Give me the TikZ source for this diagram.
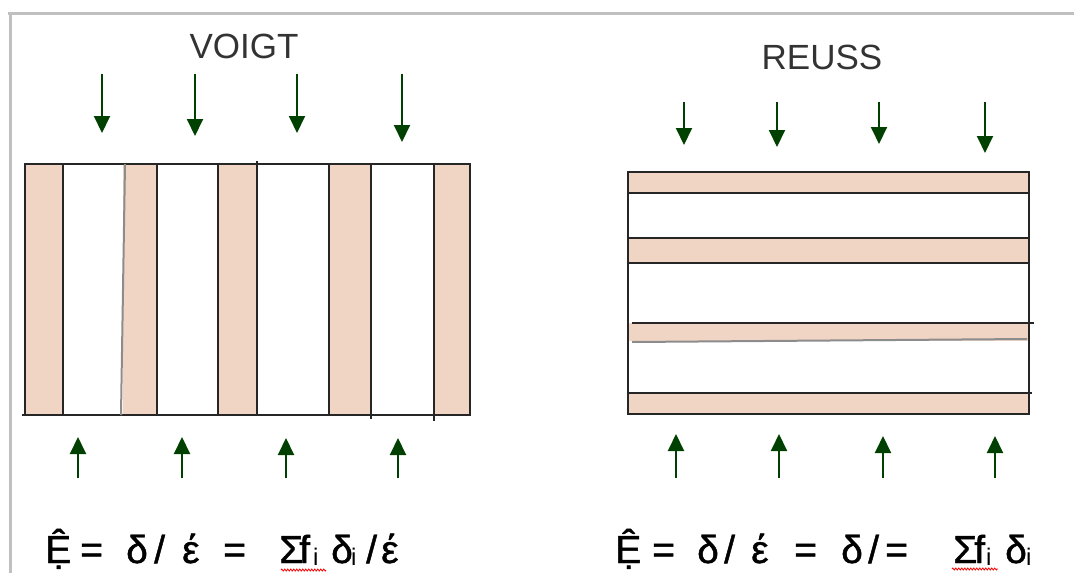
\documentclass[tikz,border=0pt]{standalone}
\usepackage{fontspec}
\setmainfont{Liberation Sans}
\usetikzlibrary{arrows.meta,decorations.pathmorphing}
\definecolor{pinkband}{RGB}{240,213,197}
\definecolor{arrowgreen}{RGB}{0,64,0}
\definecolor{framegrey}{RGB}{192,192,192}
\begin{document}
\begin{tikzpicture}[x=1pt,y=-1pt,
 frameline/.style={draw=framegrey,line width=3.5pt},
 band/.style={fill=pinkband,draw=none},
 divline/.style={draw=black!85,line width=2pt},
 greyline/.style={draw=black!45,line width=2pt},
 load/.style={draw=arrowgreen,line width=2pt,-{Triangle[width=16pt,length=17pt]}},
 title/.style={font=\fontsize{35}{40}\selectfont,inner sep=0,text=black!80},
 eq/.style={font=\fontsize{39}{44}\selectfont\addfontfeature{FakeBold=1.2},inner sep=0,anchor=base west},
 sub/.style={font=\fontsize{24}{28}\selectfont,inner sep=0,anchor=base west},
 squiggle/.style={draw=red,line width=0.8pt,decorate,decoration={zigzag,segment length=3pt,amplitude=1pt}}
]
\useasboundingbox (0,0) rectangle (1074,573);
% frame
\draw[frameline] (8,13.5) -- (1074,13.5);
\draw[frameline] (10.5,12) -- (10.5,573);

% ---------- VOIGT ----------
\node[title] (vtitle) at (244,46) {VOIGT};
\foreach \a/\b in {25/63,123/157,218/257,329/371,434/470}
  \fill[band] (\a,164) rectangle (\b,415);
\draw[divline] (25,164) rectangle (470,415);
\draw[divline] (22,415) -- (25,415);
\draw[divline] (63,164) -- (63,415);
\draw[greyline] (125,164) -- (121,415);
\draw[divline] (157,164) -- (157,415);
\draw[divline] (218,164) -- (218,415);
\draw[divline] (257,161) -- (257,415);
\draw[divline] (329,164) -- (329,415);
\draw[divline] (371,164) -- (371,419);
\draw[divline] (434,164) -- (434,421);

\foreach \n/\x/\t in {1/102/133,2/195/136,3/297/133,4/402/142}{
  \coordinate (vds\n) at (\x,74);
  \coordinate (vde\n) at (\x,\t);
  \draw[load] (vds\n) -- (vde\n);
}
\foreach \n/\x/\t in {1/78/437,2/182/437,3/286/438,4/398/438}{
  \coordinate (vus\n) at (\x,478);
  \coordinate (vue\n) at (\x,\t);
  \draw[load] (vus\n) -- (vue\n);
}

% ---------- REUSS ----------
\node[title] (rtitle) at (822,57) {REUSS};
\foreach \a/\b in {172/193,238/263,323/341,393/414}
  \fill[band] (628,\a) rectangle (1029,\b);
\draw[divline] (628,172) rectangle (1029,414);
\draw[divline] (628,193) -- (1029,193);
\draw[divline] (628,238) -- (1029,238);
\draw[divline] (628,263) -- (1029,263);
\draw[divline] (632,323) -- (1034,323);
\draw[greyline] (632,342) -- (1027,339);
\draw[divline] (628,393) -- (1032,393);

\foreach \n/\x/\t in {1/684/145,2/777/147,3/879/144,4/985/153}{
  \coordinate (rds\n) at (\x,102);
  \coordinate (rde\n) at (\x,\t);
  \draw[load] (rds\n) -- (rde\n);
}
\foreach \n/\x/\t in {1/676/434,2/779/434,3/883/436,4/995/436}{
  \coordinate (rus\n) at (\x,478);
  \coordinate (rue\n) at (\x,\t);
  \draw[load] (rus\n) -- (rue\n);
}

% ---------- formulas ----------
\node[eq] (la) at (45,563) {Ệ};
\node[eq] (lb) at (80,563) {=};
\node[eq] (lc) at (126,563) {δ};
\node[eq] (ld) at (154,563) {/};
\node[eq] (le) at (182,563) {έ};
\node[eq] (lf) at (223,563) {=};
\node[eq] (lg) at (279,563) {Σ};
\node[eq] (lh) at (299,563) {f};
\node[sub] (li) at (313,565) {i};
\node[eq] (lj) at (331,563) {δ};
\node[sub] (lk) at (351,565) {i};
\node[eq] (ll) at (366,563) {/};
\node[eq] (lm) at (381,563) {έ};
\coordinate (lsq1) at (281,570);
\coordinate (lsq2) at (326,570);
\draw[squiggle] (lsq1) -- (lsq2);

\node[eq] (ra) at (615,563) {Ệ};
\node[eq] (rb) at (652,563) {=};
\node[eq] (rc) at (697,563) {δ};
\node[eq] (rd) at (724,563) {/};
\node[eq] (re) at (751,563) {έ};
\node[eq] (rf) at (794,563) {=};
\node[eq] (rg) at (841,563) {δ};
\node[eq] (rh) at (868,563) {/};
\node[eq] (ri) at (885,563) {=};
\node[eq] (rj) at (953,563) {Σ};
\node[eq] (rk) at (974,563) {f};
\node[sub] (rl) at (986,565) {i};
\node[eq] (rm) at (1005,563) {δ};
\node[sub] (rn) at (1026,565) {i};
\coordinate (rsq1) at (952,569);
\coordinate (rsq2) at (998,569);
\draw[squiggle] (rsq1) -- (rsq2);
\end{tikzpicture}
\end{document}
